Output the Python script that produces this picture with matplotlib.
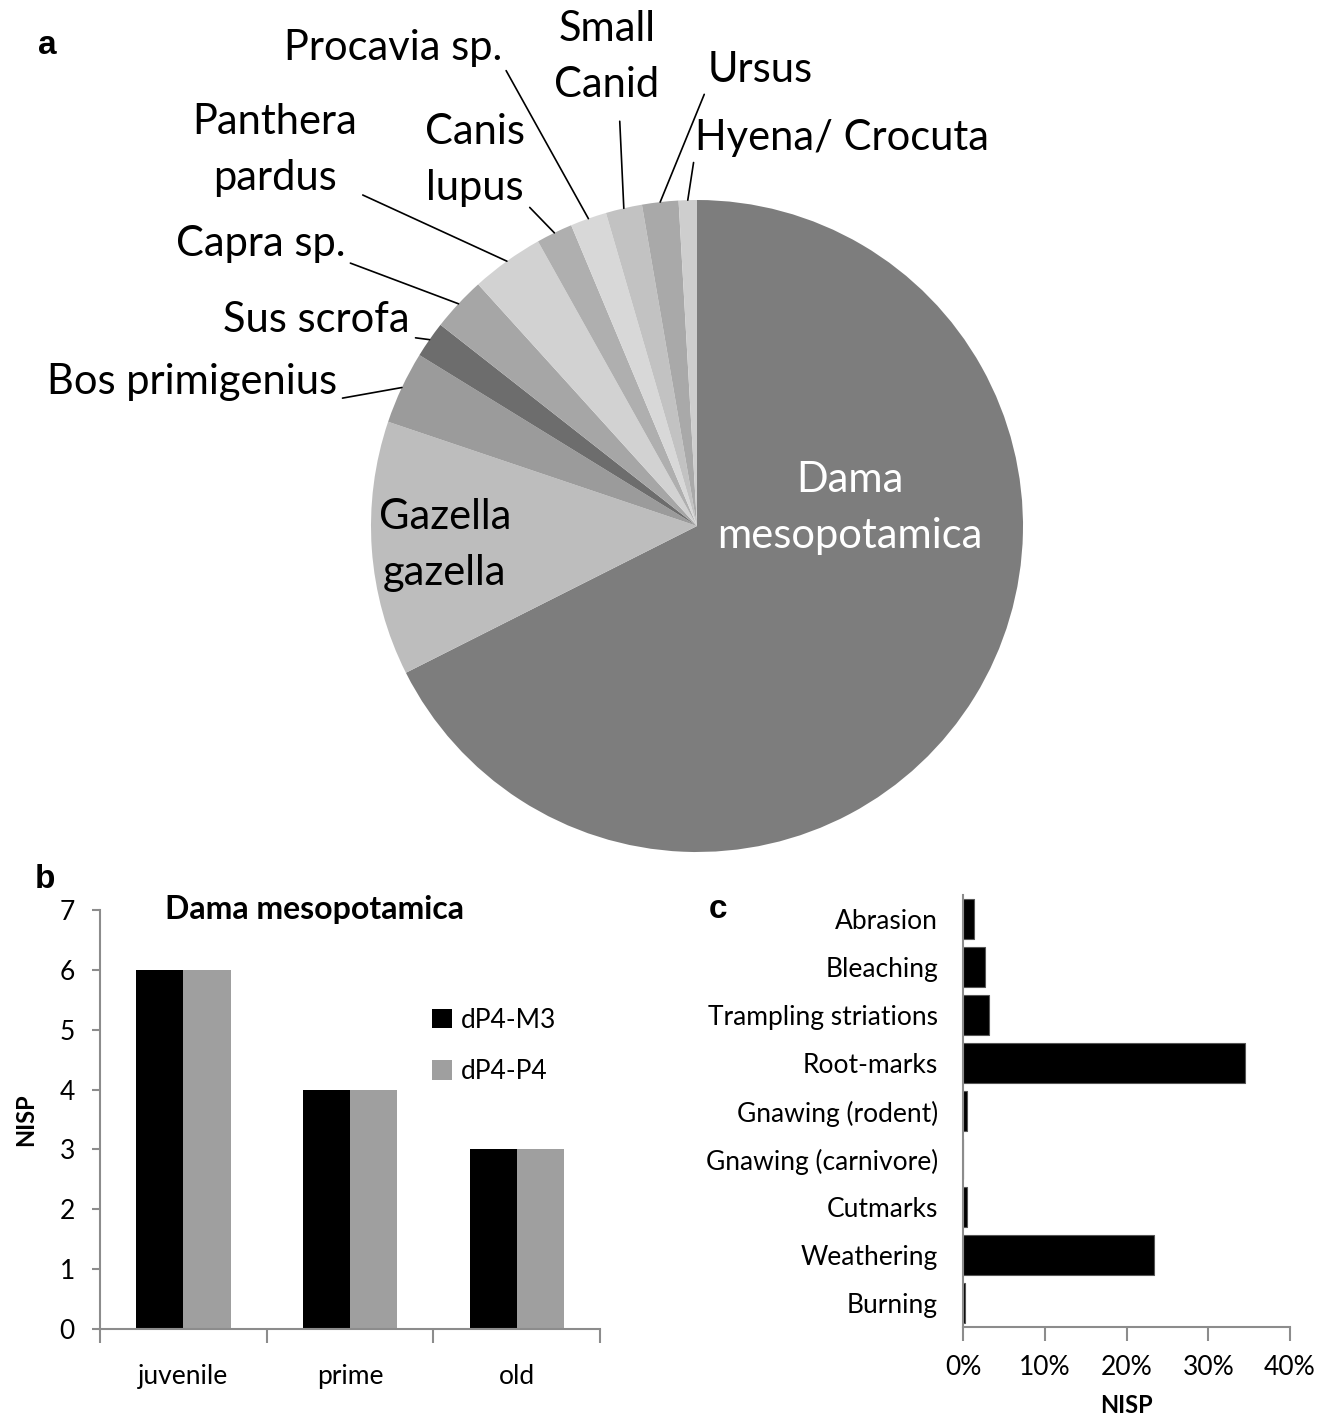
import numpy as np
import matplotlib
matplotlib.use("Agg")
import matplotlib.pyplot as plt
from matplotlib.ticker import FuncFormatter

plt.rcParams['font.family'] = ['Lato', 'DejaVu Sans']

# Panel a - taxa (NISP)
taxa = ['Dama\nmesopotamica', 'Gazella\ngazella', 'Bos primigenius', 'Sus scrofa',
        'Capra sp.', 'Panthera\npardus', 'Canis\nlupus', 'Procavia sp.',
        'Small\nCanid', 'Ursus', 'Hyena/ Crocuta']
nisp = [75, 14, 4, 2, 3, 4, 2, 2, 2, 2, 1]
pie_colors = ['#7d7d7d', '#bdbdbd', '#9b9b9b', '#6d6d6d', '#a6a6a6', '#d2d2d2',
              '#afafaf', '#d8d8d8', '#c2c2c2', '#a9a9a9', '#cecece']

# Panel b - Dama mesopotamica age classes
ages = ['juvenile', 'prime', 'old']
dp4_m3 = [6, 4, 3]
dp4_p4 = [6, 4, 3]

# Panel c - surface modifications (% NISP)
mods = ['Abrasion', 'Bleaching', 'Trampling striations', 'Root-marks',
        'Gnawing (rodent)', 'Gnawing (carnivore)', 'Cutmarks', 'Weathering', 'Burning']
mod_pct = [1.3, 2.7, 3.2, 34.5, 0.5, 0.0, 0.5, 23.4, 0.3]

W, H = 1329, 1420
fig = plt.figure(figsize=(W / 100, H / 100), dpi=100)

def fx(px):
    return px / W

def fy(py):
    return 1 - py / H

def box(x0, y0, x1, y1):
    return [fx(x0), fy(y1), fx(x1) - fx(x0), fy(y0) - fy(y1)]

LBL = 30
LS = 1.6
grey = '#8c8c8c'

# ---- a: pie ----
ax = fig.add_axes(box(371, 200, 1023, 852))
wedges, _ = ax.pie(nisp, colors=pie_colors, startangle=90, counterclock=False,
                   wedgeprops=dict(linewidth=0))
ax.set_xlim(-1, 1)
ax.set_ylim(-1, 1)

def mid(i, r=1.0):
    w = wedges[i]
    a = np.deg2rad((w.theta1 + w.theta2) / 2)
    return (r * np.cos(a), r * np.sin(a))

# outside labels: (index, text x px, text y px, ha, relpos)
outside = [
    (2, 337, 382, 'right', (1.0, 0.05)),
    (3, 410, 320, 'right', (1.0, 0.05)),
    (4, 345, 244, 'right', (1.0, 0.05)),
    (5, 275, 150, 'center', (1.0, 0.05)),
    (6, 475, 160, 'center', (1.0, 0.05)),
    (7, 502, 48, 'right', (1.0, 0.1)),
    (8, 607, 57, 'center', (0.62, -0.15)),
    (9, 708, 70, 'left', (0.0, 0.1)),
    (10, 695, 138, 'left', (0.0, 0.1)),
]
for i, tx, ty, ha, rp in outside:
    ax.annotate(taxa[i], xy=mid(i), xycoords='data',
                xytext=(fx(tx), fy(ty)), textcoords='figure fraction',
                ha=ha, va='center', fontsize=LBL, multialignment='center',
                linespacing=LS, annotation_clip=False,
                arrowprops=dict(arrowstyle='-', color='black', lw=1.2,
                                relpos=rp, shrinkA=2, shrinkB=0))

fig.text(fx(445), fy(545), taxa[1], ha='center', va='center', fontsize=LBL,
         linespacing=LS)
fig.text(fx(850), fy(508), taxa[0], ha='center', va='center', fontsize=LBL,
         color='white', linespacing=LS)

fig.text(fx(47), fy(45), 'a', fontsize=24, fontweight='bold',
         family='Liberation Sans', ha='center', va='center')

# ---- b: age bars ----
bx = fig.add_axes(box(100, 910, 600, 1329))
x = np.arange(len(ages))
bw = 0.283
bx.bar(x - bw / 2, dp4_m3, bw, color='black', label='dP4-M3')
bx.bar(x + bw / 2, dp4_p4, bw, color='#9f9f9f', label='dP4-P4')
bx.set_xlim(-0.5, len(ages) - 0.5)
bx.set_ylim(0, 7)
bx.set_yticks(range(0, 8))
bx.set_xticks(np.arange(-0.5, len(ages)))
bx.set_xticklabels([])
bx.set_xticks(x, minor=True)
bx.set_xticklabels(ages, minor=True, fontsize=19)
bx.tick_params(axis='x', which='minor', length=0, pad=25)
bx.tick_params(axis='x', which='major', length=10, width=1.5, color=grey, direction='out')
bx.tick_params(axis='y', length=6, width=1.5, color=grey, labelsize=19, pad=12)
for s in ['top', 'right']:
    bx.spines[s].set_visible(False)
for s in ['left', 'bottom']:
    bx.spines[s].set_color(grey)
    bx.spines[s].set_linewidth(1.5)
bx.set_ylabel('NISP', fontsize=17, fontweight='bold', labelpad=16)
bx.text(0.13, 1.0, 'Dama mesopotamica', transform=bx.transAxes, fontsize=23,
        fontweight='bold', ha='left', va='center')
bx.legend(loc='upper left', bbox_to_anchor=(fx(408), fy(984)),
          bbox_transform=fig.transFigure, frameon=False, fontsize=19,
          handlelength=0.75, handleheight=0.75, handletextpad=0.35, labelspacing=1.0)
fig.text(fx(45), fy(880), 'b', fontsize=24, fontweight='bold',
         family='Liberation Sans', ha='center', va='center')

# ---- c: modifications ----
cx = fig.add_axes(box(963, 895, 1290, 1327))
y = np.arange(len(mods))
cx.barh(y, mod_pct, 0.83, color='black', edgecolor='#555555', linewidth=0.8)
cx.set_ylim(len(mods) - 0.5, -0.5)
cx.set_xlim(0, 40)
cx.set_yticks(y)
cx.set_yticklabels(mods, fontsize=19)
cx.set_xticks([0, 10, 20, 30, 40])
cx.xaxis.set_major_formatter(FuncFormatter(lambda v, p: f'{v:.0f}%'))
cx.tick_params(axis='x', length=10, width=1.5, color=grey, labelsize=19, pad=10)
cx.tick_params(axis='y', length=0, pad=18)
for s in ['top', 'right']:
    cx.spines[s].set_visible(False)
for s in ['left', 'bottom']:
    cx.spines[s].set_color(grey)
    cx.spines[s].set_linewidth(1.5)
cx.set_xlabel('NISP', fontsize=17, fontweight='bold', labelpad=10)
fig.text(fx(718), fy(910), 'c', fontsize=24, fontweight='bold',
         family='Liberation Sans', ha='center', va='center')

fig.savefig('out.png', dpi=100)
